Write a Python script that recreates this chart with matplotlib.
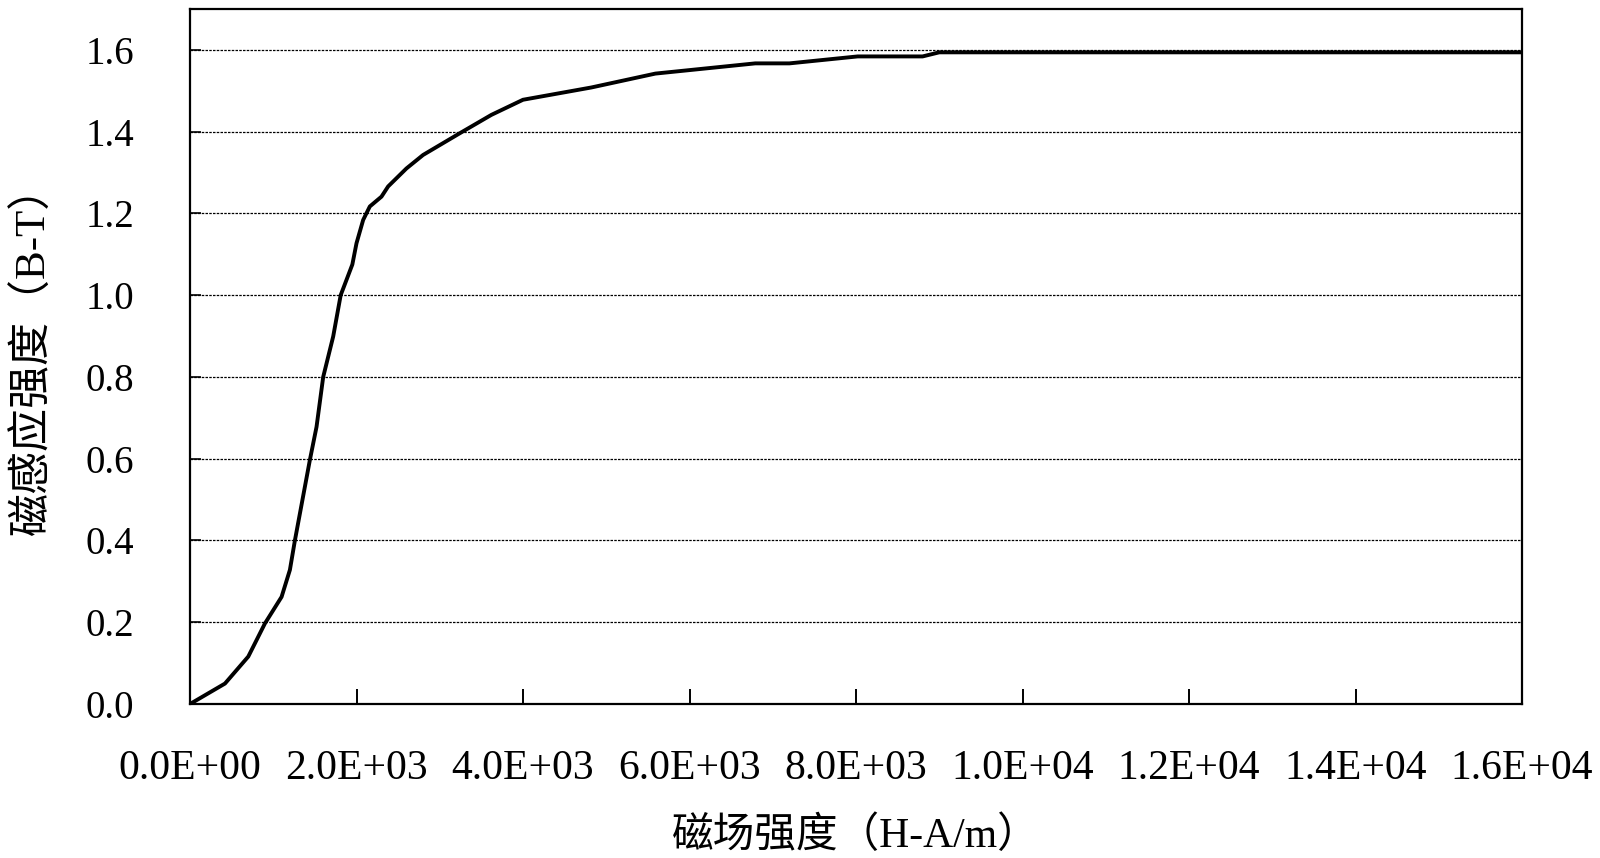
import matplotlib
matplotlib.use("Agg")
import matplotlib.pyplot as plt
from matplotlib.ticker import FuncFormatter

# Magnetic field strength H (A/m)
H = [0, 420, 700, 900, 1100, 1200, 1260, 1440, 1520, 1600, 1720, 1810, 1950,
     2000, 2080, 2160, 2300, 2380, 2600, 2800, 3240, 3620, 4000, 4820, 5590,
     6790, 7200, 8020, 8800, 9000, 10000, 12000, 14000, 16000]
# Magnetic flux density B (T)
B = [0.0, 0.05, 0.116, 0.197, 0.262, 0.328, 0.40, 0.597, 0.678, 0.80, 0.899,
     1.0, 1.075, 1.127, 1.184, 1.217, 1.241, 1.266, 1.31, 1.343, 1.396, 1.441,
     1.478, 1.508, 1.542, 1.567, 1.567, 1.584, 1.584, 1.594, 1.594, 1.594,
     1.594, 1.594]

x_ticks = [0, 2000, 4000, 6000, 8000, 10000, 12000, 14000, 16000]
y_ticks = [0.0, 0.2, 0.4, 0.6, 0.8, 1.0, 1.2, 1.4, 1.6]

plt.rcParams['font.family'] = ['Liberation Serif', 'Noto Sans CJK SC', 'DejaVu Sans']

fig = plt.figure(figsize=(16, 8.58), dpi=100)
ax = fig.add_axes([190/1600, 1 - 704/858, 1332/1600, 695/858])

ax.plot(H, B, color='black', lw=2.8, solid_joinstyle='round')

ax.set_xlim(0, 16000)
ax.set_ylim(0, 1.7)
ax.set_xticks(x_ticks)
ax.set_yticks(y_ticks)
ax.xaxis.set_major_formatter(FuncFormatter(lambda v, p: f"{v:.1E}"))
ax.yaxis.set_major_formatter(FuncFormatter(lambda v, p: f"{v:.1f}"))

ax.grid(axis='y', color='black', lw=0.9, linestyle=(0, (2, 1)))
ax.set_axisbelow(True)

for s in ax.spines.values():
    s.set_linewidth(1.6)
    s.set_color('black')

ax.tick_params(axis='x', direction='in', length=11, width=1.4, labelsize=30, pad=33)
ax.tick_params(axis='y', direction='in', length=8, width=1.2, labelsize=28, pad=40)

ax.set_xlabel('磁场强度（H-A/m）', fontsize=30)
ax.xaxis.set_label_coords(0.5, -0.19)
ax.xaxis.label.set_va('center')
ax.set_ylabel('磁感应强度（B-T）', fontsize=31)
ax.yaxis.set_label_coords(-0.118, 0.51)
ax.yaxis.label.set_va('center')

fig.savefig('out.png', dpi=100)
